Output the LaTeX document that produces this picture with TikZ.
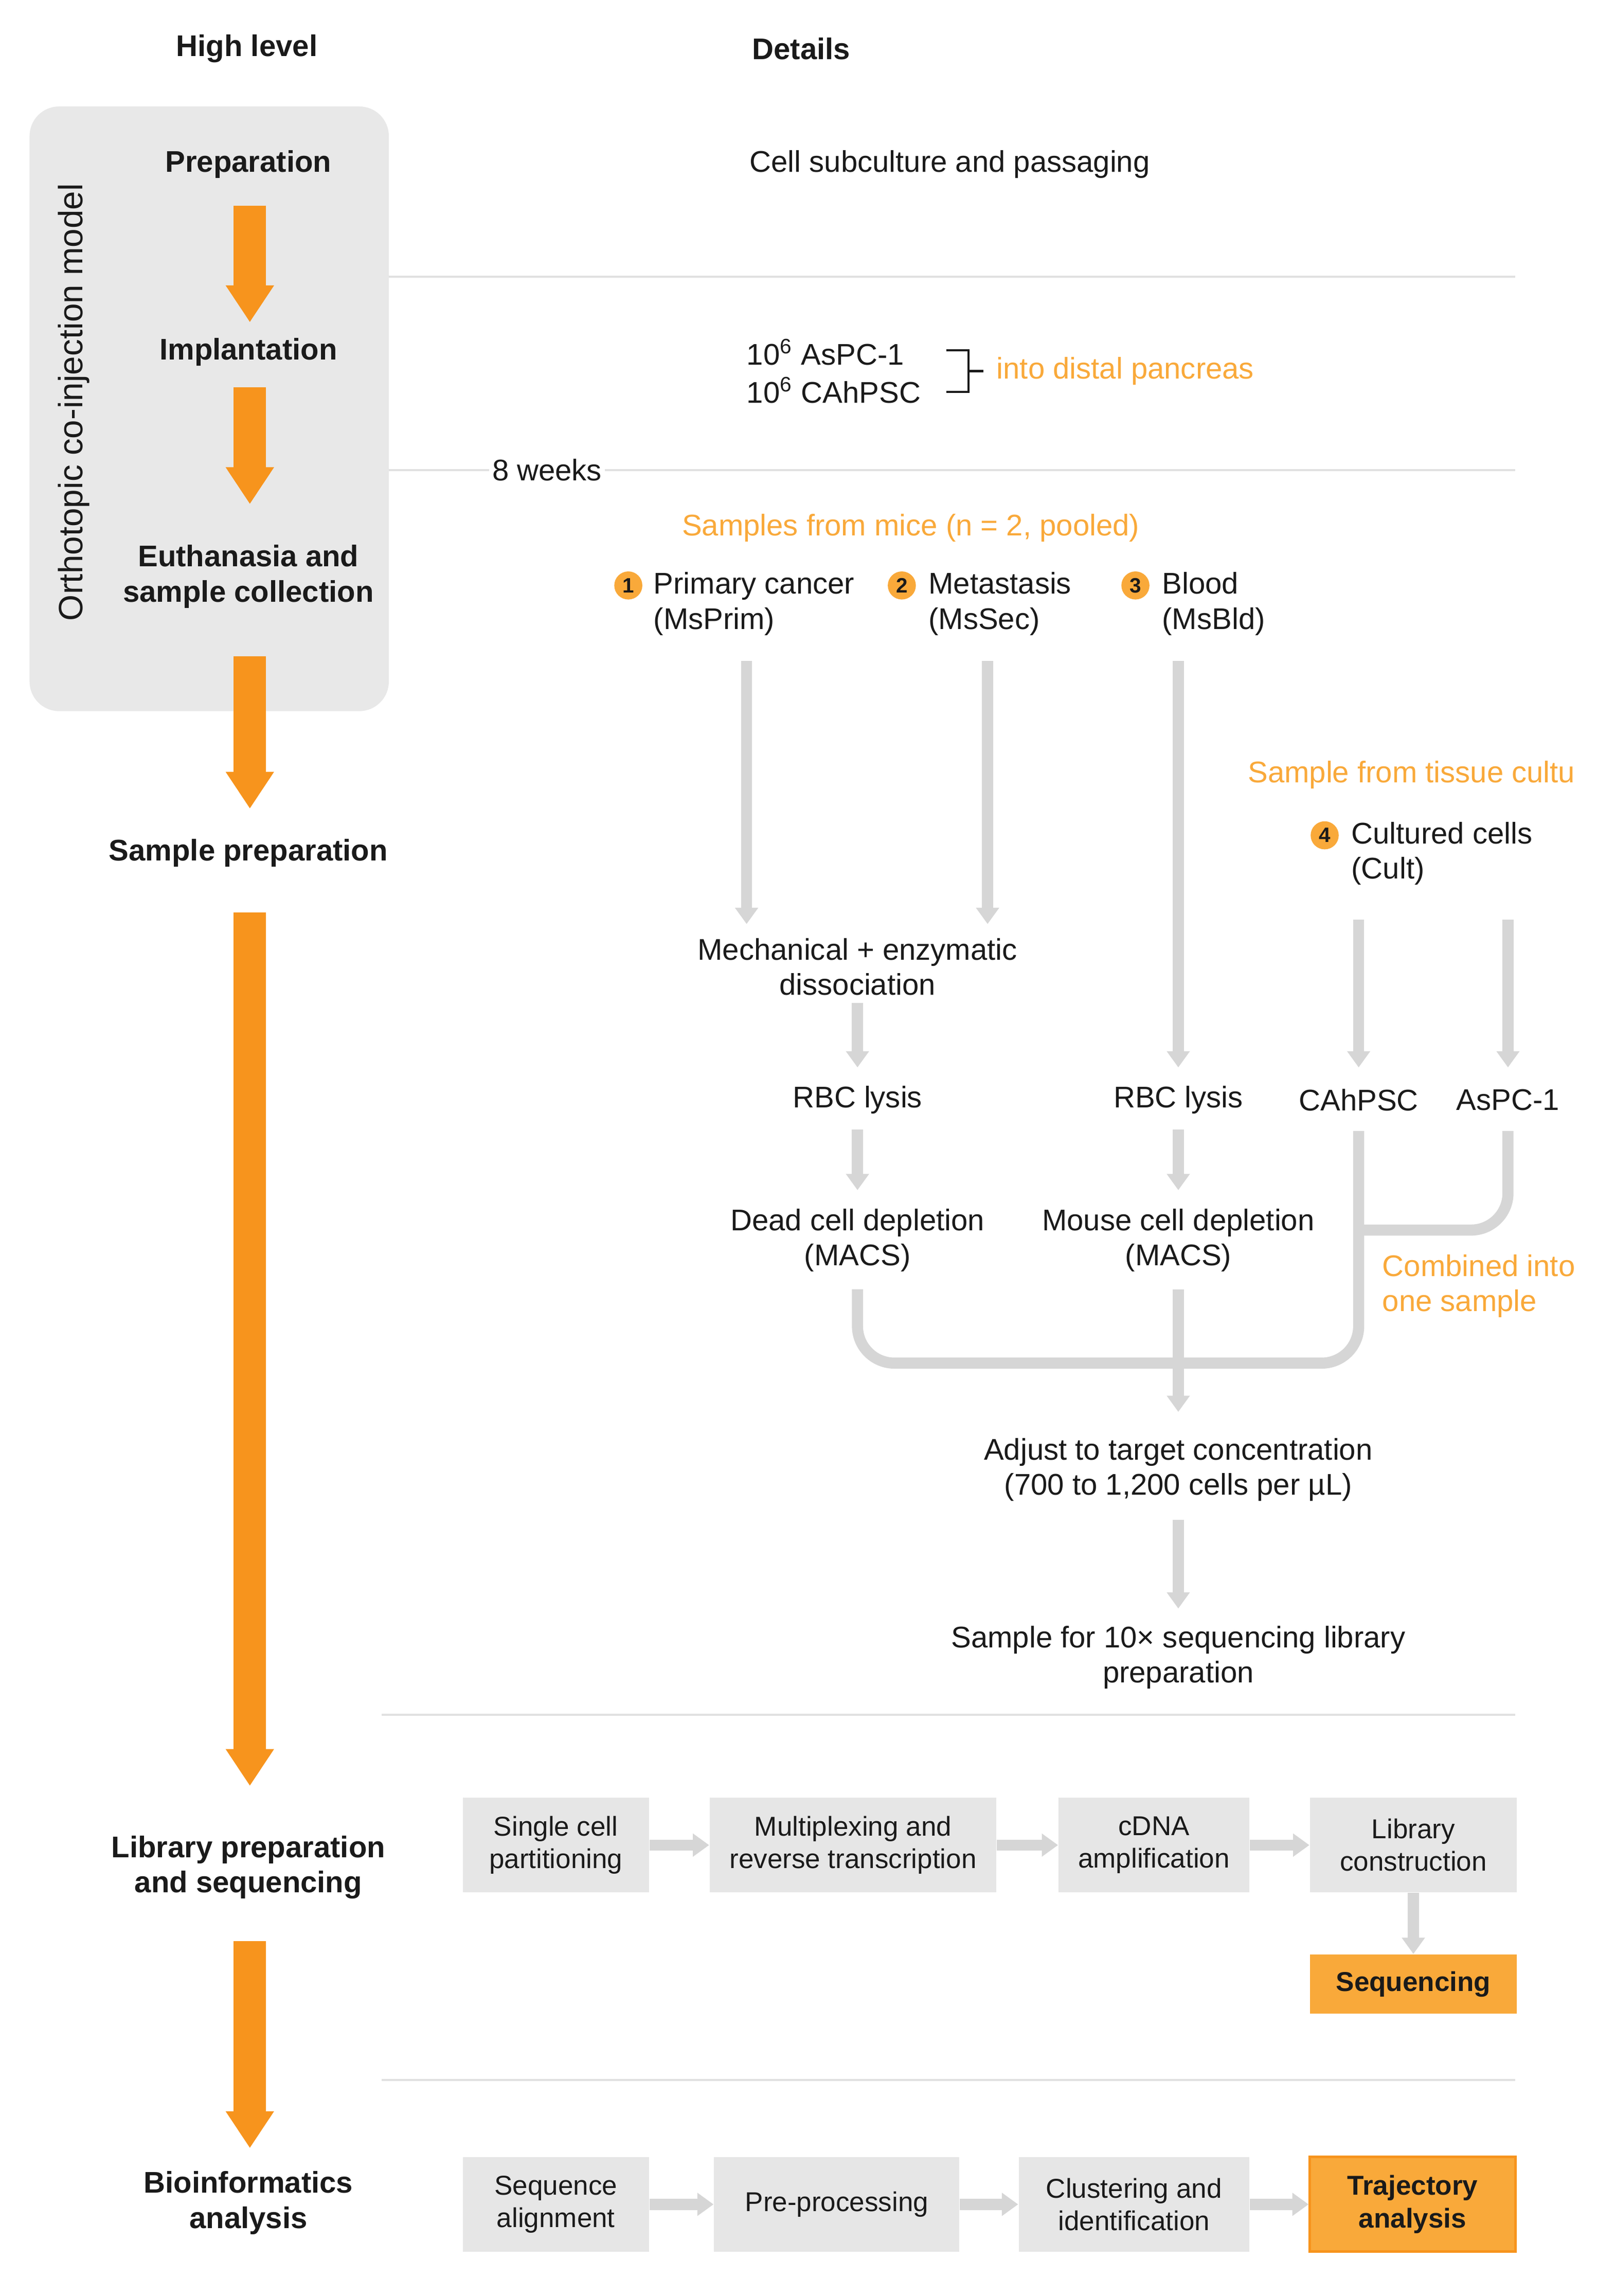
\documentclass[tikz,border=0pt]{standalone}
\usepackage{fontspec}
\setmainfont{Liberation Sans}
\usetikzlibrary{arrows.meta}
\definecolor{org}{HTML}{F7941D}
\definecolor{orgt}{HTML}{F9A93A}
\definecolor{lg}{HTML}{D6D6D6}
\definecolor{panel}{HTML}{E8E8E8}
\definecolor{boxg}{HTML}{E6E6E6}
\definecolor{rule}{HTML}{E0E0E0}
\definecolor{txt}{HTML}{1A1A1A}
\begin{document}
\begin{tikzpicture}[x=0.02cm,y=-0.02cm,
 every node/.style={font=\fontsize{11.5}{13.5}\selectfont,text=txt,inner sep=1pt},
 hl/.style={font=\fontsize{11.5}{13.5}\selectfont\bfseries,align=center},
 ot/.style={text=orgt},
 big/.style={draw=org,line width=0.44cm,-{Triangle[width=0.62cm,length=0.5cm]}},
 ga/.style={draw=lg,line width=0.15cm,-{Triangle[width=0.3cm,length=0.22cm]}},
 gl/.style={draw=lg,line width=0.15cm,rounded corners=0.5cm},
 rl/.style={draw=rule,line width=0.8pt},
 box/.style={fill=boxg,minimum height=1.28cm,align=center,font=\fontsize{10.5}{12.5}\selectfont,inner sep=0pt},
 obox/.style={fill=orgt,minimum height=1.28cm,align=center,font=\fontsize{10.5}{12.5}\selectfont\bfseries,inner sep=0pt},
 num/.style={circle,fill=orgt,minimum size=0.38cm,inner sep=0pt,font=\fontsize{8}{9}\selectfont\bfseries}]
\useasboundingbox (0,0) rectangle (1080,1553);
\fill[white] (0,0) rectangle (1080,1553);
\fill[panel,rounded corners=0.4cm] (20,72) rectangle (263,481);
\node[rotate=90,font=\fontsize{13}{15}\selectfont] (orth) at (50,272) {Orthotopic co-injection model};
\node[hl] (hlev) at (167,33) {High level};
\node[hl] (det) at (542,33) {Details};
\node[hl] (prep) at (168,111) {Preparation};
\node[hl] (impl) at (168,238) {Implantation};
\node[hl] (euth) at (168,390) {Euthanasia and\\sample collection};
\node[hl] (sprep) at (168,577) {Sample preparation};
\node[hl] (lib) at (168,1263) {Library preparation\\and sequencing};
\node[hl] (bio) at (168,1490) {Bioinformatics\\analysis};
\coordinate (a1) at (169,139); \coordinate (a1e) at (169,218);
\coordinate (a2) at (169,262); \coordinate (a2e) at (169,341);
\coordinate (a3) at (169,444); \coordinate (a3e) at (169,547);
\coordinate (a4) at (169,617); \coordinate (a4e) at (169,1208);
\coordinate (a5) at (169,1313); \coordinate (a5e) at (169,1453);
\draw[big] (a1) -- (a1e); \draw[big] (a2) -- (a2e); \draw[big] (a3) -- (a3e);
\draw[big] (a4) -- (a4e); \draw[big] (a5) -- (a5e);
% rules
\draw[rl] (263,187) -- (1025,187);
\node (wk) at (370,318) {8 weeks};
\draw[rl] (263,318) -- (wk.west); \draw[rl] (wk.east) -- (1025,318);
\draw[rl] (258,1160) -- (1025,1160);
\draw[rl] (258,1407) -- (1025,1407);
% details
\node[anchor=west] (cell) at (505,111) {Cell subculture and passaging};
\node[anchor=west] (asp) at (503,238) {10\textsuperscript{6} AsPC-1};
\node[anchor=west] (cah) at (503,264) {10\textsuperscript{6} CAhPSC};
\draw[txt,line width=0.8pt] (640,237) -- (655,237) -- (655,265) -- (640,265) (655,251) -- (665,251);
\node[anchor=west,ot] (dist) at (672,251) {into distal pancreas};
\node[ot] (smice) at (616,357) {Samples from mice (n = 2, pooled)};
\node[num] (n1) at (425,396) {1};
\node[anchor=north west,align=left] (prim) at (440,385) {Primary cancer\\(MsPrim)};
\node[num] (n2) at (610,396) {2};
\node[anchor=north west,align=left] (met) at (626,385) {Metastasis\\(MsSec)};
\node[num] (n3) at (768,396) {3};
\node[anchor=north west,align=left] (blood) at (784,385) {Blood\\(MsBld)};
\node[anchor=west,ot] (stis) at (842,524) {Sample from tissue cultu};
\node[num] (n4) at (896,565) {4};
\node[anchor=north west,align=left] (cult) at (912,554) {Cultured cells\\(Cult)};
\node[align=center] (mech) at (580,654) {Mechanical + enzymatic\\dissociation};
\node (rbc1) at (580,744) {RBC lysis};
\node[align=center] (dead) at (580,839) {Dead cell depletion\\(MACS)};
\node (rbc2) at (797,744) {RBC lysis};
\node[align=center] (mouse) at (797,839) {Mouse cell depletion\\(MACS)};
\node (cahp) at (919,744) {CAhPSC};
\node (aspc) at (1020,744) {AsPC-1};
\node[anchor=west,ot,align=left] (comb) at (933,870) {Combined into\\one sample};
\node[align=center] (adj) at (797,994) {Adjust to target concentration\\(700 to 1,200 cells per µL)};
\node[align=center] (samp) at (797,1121) {Sample for 10× sequencing library\\preparation};
\coordinate (p1) at (505,447); \coordinate (p1e) at (505,625);
\coordinate (p2) at (668,447); \coordinate (p2e) at (668,625);
\coordinate (p3) at (797,447); \coordinate (p3e) at (797,722);
\coordinate (p4) at (919,622); \coordinate (p4e) at (919,722);
\coordinate (p5) at (1020,622); \coordinate (p5e) at (1020,722);
\draw[ga] (p1) -- (p1e); \draw[ga] (p2) -- (p2e); \draw[ga] (p3) -- (p3e);
\draw[ga] (p4) -- (p4e); \draw[ga] (p5) -- (p5e);
\draw[ga] (mech.south) ++(0,3) -- (580,722);
\draw[ga] (580,764) -- (580,805);
\draw[ga] (797,764) -- (797,805);
\draw[gl] (1020,765) -- (1020,832) -- (919,832);
\draw[gl] (919,765) -- (919,922) -- (797,922);
\draw[gl] (580,872) -- (580,922) -- (797,922);
\draw[ga] (797,872) -- (797,955);
\draw[ga] (797,1028) -- (797,1088);
% row1
\node[box,minimum width=2.52cm] (b1) at (376,1248) {Single cell\\partitioning};
\node[box,minimum width=3.88cm] (b2) at (577,1248) {Multiplexing and\\reverse transcription};
\node[box,minimum width=2.58cm] (b3) at (780.5,1248) {cDNA\\amplification};
\node[box,minimum width=2.8cm] (b4) at (956,1248) {Library\\construction};
\node[obox,minimum width=2.8cm,minimum height=0.8cm] (seq) at (956,1342) {Sequencing};
\draw[ga] (b1) -- (b2); \draw[ga] (b2) -- (b3); \draw[ga] (b3) -- (b4); \draw[ga] (b4) -- (seq);
% row2
\node[box,minimum width=2.52cm] (c1) at (376,1491) {Sequence\\alignment};
\node[box,minimum width=3.32cm] (c2) at (566,1491) {Pre-processing};
\node[box,minimum width=3.12cm] (c3) at (767,1491) {Clustering and\\identification};
\node[obox,draw=org,line width=1pt,minimum width=2.78cm] (c4) at (955.5,1491) {Trajectory\\analysis};
\draw[ga] (c1) -- (c2); \draw[ga] (c2) -- (c3); \draw[ga] (c3) -- (c4);
\end{tikzpicture}
\end{document}
